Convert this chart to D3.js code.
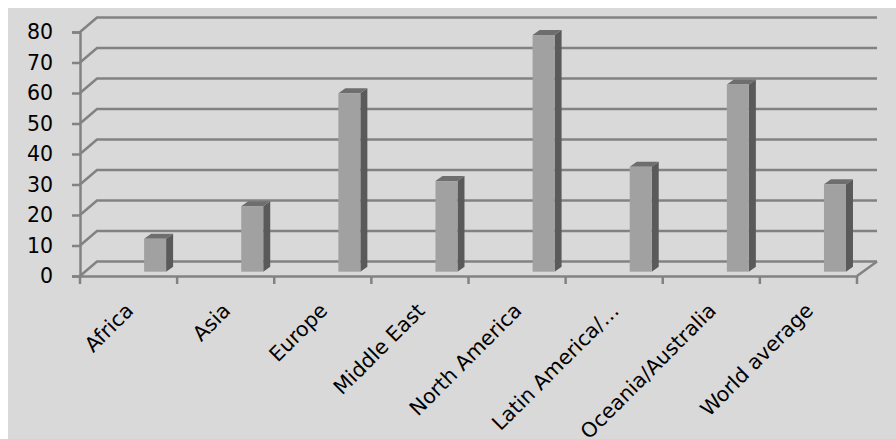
<!DOCTYPE html>
<html>
<head>
<meta charset="utf-8">
<script src="https://cdn.jsdelivr.net/npm/d3@7"></script>
<style>
  html, body { margin: 0; padding: 0; background: #ffffff; }
  svg { display: block; }
</style>
</head>
<body>
<svg id="chart" width="896" height="439"></svg>
<script>
const categories = ["Africa", "Asia", "Europe", "Middle East", "North America", "Latin America/…", "Oceania/Australia", "World average"];
const values = [10.8, 21.5, 58.5, 29.7, 77.6, 34.4, 61.4, 28.7];
const yTicks = [0, 10, 20, 30, 40, 50, 60, 70, 80];

const svg = d3.select("#chart");
const W = 896, H = 439;

// background panel
svg.append("rect").attr("x", 8).attr("y", 8).attr("width", W - 8).attr("height", H - 8).attr("fill", "#d9d9d9");

const x = d3.scaleBand().domain(categories).range([80, 857]).paddingInner(0).paddingOuter(0);
const y = d3.scaleLinear().domain([0, 80]).range([276, 32]);

// depth offsets (3D)
const backDx = 17, backDy = -14.5, backRight = 877;
const barDy = -4.3;
const gridColor = "#828282";

const g = svg.append("g");

// back wall gridlines with diagonal connectors
yTicks.forEach(t => {
  const yf = y(t);
  g.append("path")
    .attr("d", `M${x.range()[0]},${yf} L${x.range()[0] + backDx},${yf + backDy} L${backRight},${yf + backDy}`)
    .attr("fill", "none").attr("stroke", gridColor).attr("stroke-width", 2.5);
});
// floor right edge
g.append("line")
  .attr("x1", x.range()[1]).attr("y1", y(0))
  .attr("x2", backRight).attr("y2", y(0) + backDy)
  .attr("stroke", gridColor).attr("stroke-width", 2.5);

// y axis (front)
const yAxis = d3.axisLeft(y).tickValues(yTicks).tickSize(8).tickPadding(19).tickFormat(d3.format("d"));
const ya = svg.append("g").attr("transform", `translate(${x.range()[0]},0)`).call(yAxis);
ya.select(".domain").attr("stroke", gridColor).attr("stroke-width", 2.5);
ya.selectAll(".tick line").attr("stroke", gridColor).attr("stroke-width", 2.5);
ya.selectAll(".tick text").attr("font-family", "DejaVu Sans, sans-serif").attr("font-size", 20.5).attr("fill", "#000");

// x axis (front)
const xAxis = d3.axisBottom(x).tickSize(0).tickFormat("");
const xa = svg.append("g").attr("transform", `translate(0,${y(0)})`).call(xAxis);
xa.select(".domain").attr("stroke", gridColor).attr("stroke-width", 2.5);
// tick marks at category boundaries
const bounds = categories.map(c => x(c)).concat([x.range()[1]]);
xa.selectAll(".bnd").data(bounds).enter().append("line")
  .attr("x1", d => d).attr("x2", d => d).attr("y1", 0).attr("y2", 8)
  .attr("stroke", gridColor).attr("stroke-width", 2.5);

// category labels
svg.append("g").selectAll("text").data(categories).enter().append("text")
  .attr("transform", d => `translate(${x(d) + x.bandwidth() / 2 + 1},307) rotate(-45)`)
  .attr("text-anchor", "end")
  .attr("dominant-baseline", "central")
  .attr("font-family", "DejaVu Sans, sans-serif")
  .attr("font-size", 20.5)
  .attr("fill", "#000")
  .text(d => d);

// bars (3D)
const bw = 22, sdx = 7, sdy = -5;
const bars = svg.append("g").selectAll("g").data(categories).enter().append("g");
bars.each(function(c, i) {
  const sel = d3.select(this);
  const x0 = x(c) + x.bandwidth() * 0.66;
  const yb = y(0) + barDy;
  const yt = y(values[i]) + barDy;
  // side face
  sel.append("path")
    .attr("d", `M${x0 + bw},${yt} L${x0 + bw + sdx},${yt + sdy} L${x0 + bw + sdx},${yb + sdy} L${x0 + bw},${yb} Z`)
    .attr("fill", "#5a5a5a");
  // top face
  sel.append("path")
    .attr("d", `M${x0},${yt} L${x0 + sdx},${yt + sdy} L${x0 + bw + sdx},${yt + sdy} L${x0 + bw},${yt} Z`)
    .attr("fill", "#6e6e6e");
  // front face
  sel.append("rect")
    .attr("x", x0).attr("y", yt).attr("width", bw).attr("height", yb - yt)
    .attr("fill", "#a1a1a1");
});
</script>
</body>
</html>
